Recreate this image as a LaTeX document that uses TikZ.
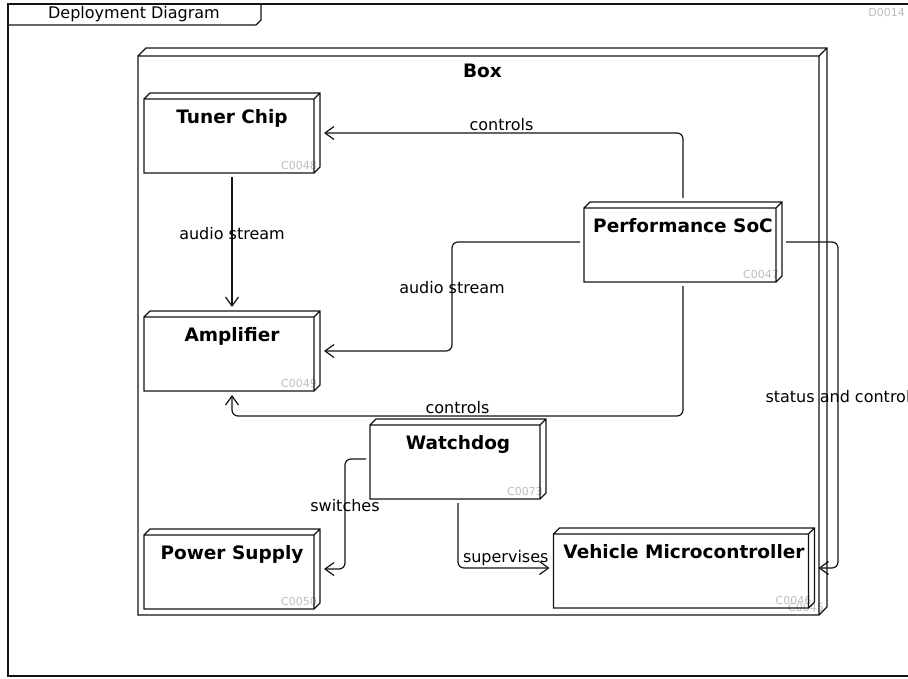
\documentclass[tikz,border=0pt]{standalone}
\usepackage{fontspec}
\setmainfont{DejaVu Sans}
\usetikzlibrary{arrows.meta, calc}
\definecolor{IDG}{RGB}{190,190,190}
\definecolor{DK}{RGB}{20,20,20}

\begin{document}
\begin{tikzpicture}[
  x=1pt, y=-1pt,
  dev/.style={minimum width=#1, minimum height=80pt, inner sep=0pt, outer sep=0pt},
  ttl/.style={anchor=north, yshift=-16pt, inner sep=0pt,
              font=\bfseries\fontsize{18.5}{22}\selectfont},
  idfont/.style={inner sep=0pt, text=IDG, font=\fontsize{11}{13}\selectfont},
  idt/.style={idfont, anchor=base east, xshift=-3pt, yshift=4pt},
  edge3d/.style={draw=DK, line width=1.2pt, line join=miter},
  conn/.style={draw=DK, line width=1.2pt, rounded corners=6pt,
               shorten <=4pt, shorten >=4pt,
               -{Straight Barb[length=9pt,width=13pt]}},
  lbl/.style={above, inner sep=2pt, font=\fontsize{16}{19}\selectfont}
]
\useasboundingbox (0,0) rectangle (908,678);
\fill[white] (0,0) rectangle (908,678);

% frame
\draw[edge3d] (8,4) rectangle (914,676);
\draw[edge3d] (8,25) -- (256,25) -- (261,20) -- (261,4);
\node[font=\fontsize{16}{19}\selectfont] (frm) at (134,14) {Deployment Diagram};
\node[idfont, anchor=base east] (frmid) at (905,16) {D0014};

% nodes
\node[dev=689pt, minimum height=567pt,
      label={[ttl]north:Box}, label={[idt]south east:C0045}] (box) at (482.5,331.5) {};
\node[dev=176pt, label={[ttl]north:Tuner Chip}, label={[idt]south east:C0048}] (tuner) at (232,133) {};
\node[dev=176pt, label={[ttl]north:Amplifier}, label={[idt]south east:C0049}] (amp) at (232,351) {};
\node[dev=176pt, label={[ttl]north:Power Supply}, label={[idt]south east:C0050}] (power) at (232,569) {};
\node[dev=198pt, label={[ttl]north:Performance SoC}, label={[idt]south east:C0047}] (soc) at (683,242) {};
\node[dev=176pt, label={[ttl]north:Watchdog}, label={[idt]south east:C0073}] (wdog) at (458,459) {};
\node[dev=261pt, label={[ttl]north:Vehicle Microcontroller}, label={[idt]south east:C0046}] (vmc) at (684,568) {};

\foreach \n/\d in {box/8,tuner/6,amp/6,power/6,soc/6,wdog/6,vmc/6}
  \draw[edge3d] (\n.south west) rectangle ([xshift=-\d pt,yshift=-\d pt]\n.north east)
    ([yshift=-\d pt]\n.north west) -- ([xshift=\d pt]\n.north west) -- (\n.north east)
    -- ([yshift=\d pt]\n.south east) -- ([xshift=-\d pt]\n.south east)
    ([xshift=-\d pt,yshift=-\d pt]\n.north east) -- (\n.north east);

% connectors
\draw[conn] (soc.north) |- node[lbl,pos=0.75]{controls} (tuner.east);
\draw[conn] (tuner.south) -- node[lbl]{audio stream} (amp.north);
\draw[conn] (soc.west) -| ($(soc.west)!.5!(amp.east)$) node[lbl]{audio stream} |- (amp.east);
\draw[conn] (soc.south) -- ++(0,134) -| node[lbl,pos=0.25]{controls} (amp.south);
\draw[conn] (soc.east) -- ++(56,0) |- node[lbl,pos=0.25]{status and control} (vmc.east);
\draw[conn] (wdog.west) -| ($(wdog.west)!.5!(power.east)$) node[lbl]{switches} |- (power.east);
\draw[conn] (wdog.south) |- node[lbl,pos=0.75]{supervises} (vmc.west);
\end{tikzpicture}
\end{document}
